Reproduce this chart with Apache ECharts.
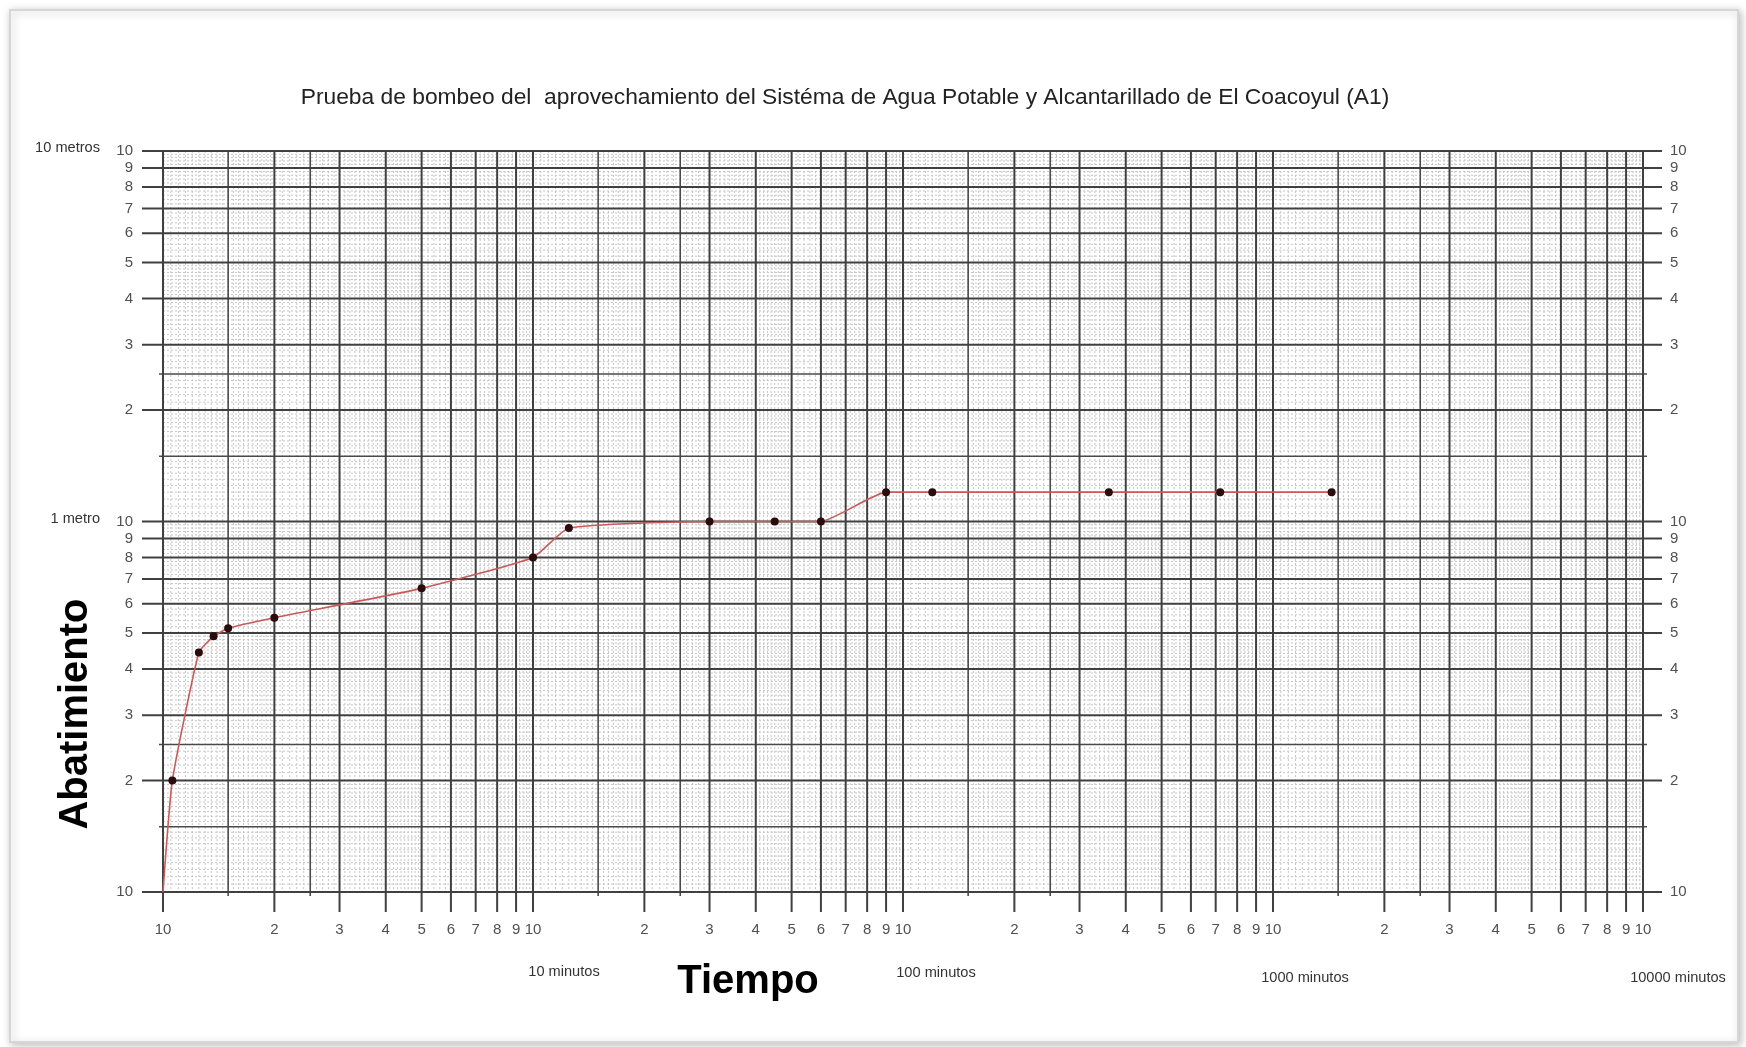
<!DOCTYPE html>
<html>
<head>
<meta charset="utf-8">
<script src="https://cdn.jsdelivr.net/npm/echarts@6/dist/echarts.min.js"></script>
<style>
  html, body { margin: 0; padding: 0; background: #ffffff; }
  #chart { width: 1746px; height: 1047px; }
</style>
</head>
<body>
<div id="chart"></div>
<script>
// ---------------- data ----------------
const timeMin   = [1, 1.06, 1.25, 1.37, 1.5, 2, 5, 10, 12.5, 30, 45, 60, 90, 120, 360, 720, 1440];
const drawdownM = [0.1, 0.2, 0.443, 0.49, 0.515, 0.55, 0.66, 0.8, 0.96, 1.0, 1.0, 1.0, 1.2, 1.2, 1.2, 1.2, 1.2];

// ---------------- tick labels ----------------
const mantissaLabels = ['10', '2', '3', '4', '5', '6', '7', '8', '9'];
const xDecades = [1, 10, 100, 1000];
const xEndValue = 10000;
const yDecades = [0.1, 1];
const yEndValue = 10;
const xDecadeNotes = ['10 minutos', '100 minutos', '1000 minutos', '10000 minutos'];
const xDecadeNoteX = [564, 936, 1305, 1678];
const xDecadeNoteY = [972, 973, 978, 978];
const yDecadeNotes = ['1 metro', '10 metros'];

const titleText = 'Prueba de bombeo del  aprovechamiento del Sistéma de Agua Potable y Alcantarillado de El Coacoyul (A1)';
const xAxisTitle = 'Tiempo';
const yAxisTitle = 'Abatimiento';

// ---------------- helpers ----------------
function fitFont(text, family, weight, targetW) {
  const ctx = document.createElement('canvas').getContext('2d');
  ctx.font = weight + ' 100px ' + family;
  const w = ctx.measureText(text).width;
  return Math.round(100 * targetW / w * 10) / 10;
}
const NARROW = "'Liberation Sans Narrow', 'Arial Narrow', 'Liberation Sans', Arial, sans-serif";
const SANS = "'Liberation Sans', Arial, sans-serif";

// grid decoration mantissas (log paper rulings)
function fineMantissas() {
  const out = [];
  for (let k = 1; k < 20; k++) { const v = 1 + k * 0.05; if (Math.abs(v - 1.5) > 1e-9) out.push(v); }
  for (let k = 1; k < 30; k++) { const v = 2 + k * 0.1; if (Math.abs(v - Math.round(v)) > 1e-9 && Math.abs(v - 2.5) > 1e-9) out.push(v); }
  for (let k = 1; k < 25; k++) { const v = 5 + k * 0.2; if (Math.abs(v - Math.round(v)) > 1e-9) out.push(v); }
  return out;
}
const majorM = [1, 2, 3, 4, 5, 6, 7, 8, 9];
const mediumM = [1.5, 2.5];
const fineM = fineMantissas();

function expand(decades, ms) {
  const out = [];
  decades.forEach(d => ms.forEach(m => out.push(+(d * m).toPrecision(6))));
  return out;
}

const titleSize = fitFont(titleText, NARROW, 'normal', 1089);
const noteSize = fitFont('10000 minutos', NARROW, 'normal', 96);

// ---------------- grid / ticks drawn through the axes ----------------
function renderPaper(params, api) {
  const ch = [];
  const bl = api.coord([1, 0.1]);
  const tr = api.coord([xEndValue, yEndValue]);
  const L = bl[0], B = bl[1], R = tr[0], T = tr[1];
  const fine = { stroke: '#c6c6c6', lineWidth: 1, lineDash: [2, 2] };
  const dark = { stroke: '#404040', lineWidth: 2 };
  const med = { stroke: '#4a4a4a', lineWidth: 1.6 };
  const ln = (x1, y1, x2, y2, st) => ch.push({ type: 'line', shape: { x1, y1, x2, y2 }, style: Object.assign({}, st) });
  const labelColor = '#505050';
  const labelFont = '15px ' + NARROW;

  // fine rulings
  expand(xDecades, fineM).forEach(v => { const x = api.coord([v, 1])[0]; ln(x, T, x, B, fine); });
  expand(yDecades, fineM).forEach(v => { const y = api.coord([1, v])[1]; ln(L, y, R, y, fine); });
  // medium rulings (1.5, 2.5) with short outer ticks
  expand(xDecades, mediumM).forEach(v => { const x = api.coord([v, 1])[0]; ln(x, T, x, B + 4, med); });
  expand(yDecades, mediumM).forEach(v => { const y = api.coord([1, v])[1]; ln(L - 4, y, R + 4, y, med); });
  // major rulings with outer ticks and labels
  const xMaj = expand(xDecades, majorM).concat([xEndValue]);
  xMaj.forEach((v, i) => {
    const x = api.coord([v, 1])[0];
    ln(x, T, x, B + 20, dark);
    const lab = i === xMaj.length - 1 ? '10' : mantissaLabels[i % 9];
    ch.push({ type: 'text', x: x, y: 930, style: { text: lab, fill: labelColor, font: labelFont, align: 'center', verticalAlign: 'middle' } });
  });
  const yMaj = expand(yDecades, majorM).concat([yEndValue]);
  yMaj.forEach((v, i) => {
    const y = api.coord([1, v])[1];
    ln(L - 21, y, R + 19, y, dark);
    const lab = i === yMaj.length - 1 ? '10' : mantissaLabels[i % 9];
    ch.push({ type: 'text', x: 133, y: y, style: { text: lab, fill: labelColor, font: labelFont, align: 'right', verticalAlign: 'middle' } });
    ch.push({ type: 'text', x: 1670, y: y, style: { text: lab, fill: labelColor, font: labelFont, align: 'left', verticalAlign: 'middle' } });
  });
  // decade notes
  xDecadeNotes.forEach((t, i) => {
    ch.push({ type: 'text', x: xDecadeNoteX[i], y: xDecadeNoteY[i], style: { text: t, fill: '#333', font: noteSize + 'px ' + NARROW, align: 'center', verticalAlign: 'middle' } });
  });
  yDecadeNotes.forEach((t, i) => {
    const y = api.coord([1, yDecades[i] * 10])[1];
    ch.push({ type: 'text', x: 100, y: y - 3, style: { text: t, fill: '#333', font: noteSize + 'px ' + NARROW, align: 'right', verticalAlign: 'middle' } });
  });
  return { type: 'group', children: ch };
}

const chart = echarts.init(document.getElementById('chart'), null, { renderer: 'canvas' });

const lineData = timeMin.map((t, i) => i === 0 ? { value: [t, drawdownM[i]], symbol: 'none' } : [t, drawdownM[i]]);

chart.setOption({
  animation: false,
  backgroundColor: '#ffffff',
  grid: { left: 163, top: 151, width: 1480, height: 741, containLabel: false },
  xAxis: {
    type: 'log', logBase: 10, min: 1, max: xEndValue,
    axisLine: { show: false }, axisTick: { show: false }, axisLabel: { show: false }, splitLine: { show: false }
  },
  yAxis: {
    type: 'log', logBase: 10, min: 0.1, max: yEndValue,
    axisLine: { show: false }, axisTick: { show: false }, axisLabel: { show: false }, splitLine: { show: false }
  },
  graphic: [
    { type: 'rect', z: -10, shape: { x: 10, y: 10, width: 1728, height: 1032 },
      style: { fill: '#ffffff', stroke: '#d6d6d6', lineWidth: 2, shadowBlur: 8, shadowColor: 'rgba(0,0,0,0.25)', shadowOffsetX: 2, shadowOffsetY: 2 } },
    { type: 'text', z: 10, x: 845, y: 98,
      style: { text: titleText, fill: '#222', font: titleSize + 'px ' + NARROW, align: 'center', verticalAlign: 'middle' } },
    { type: 'text', z: 10, x: 748, y: 982,
      style: { text: xAxisTitle, fill: '#000', font: 'bold 40px ' + SANS, align: 'center', verticalAlign: 'middle' } },
    { type: 'text', z: 10, x: 76, y: 714, rotation: Math.PI / 2,
      style: { text: yAxisTitle, fill: '#000', font: 'bold 40px ' + SANS, align: 'center', verticalAlign: 'middle' } }
  ],
  series: [
    {
      type: 'custom', z: 1, silent: true, clip: false,
      renderItem: renderPaper,
      data: [[1, 0.1]]
    },
    {
      type: 'line', z: 5,
      data: lineData,
      smooth: 0.15,
      symbol: 'circle', symbolSize: 8,
      lineStyle: { color: '#c85a5a', width: 1.6 },
      itemStyle: { color: '#2a0c0c' },
      silent: true
    }
  ]
});
</script>
</body>
</html>
